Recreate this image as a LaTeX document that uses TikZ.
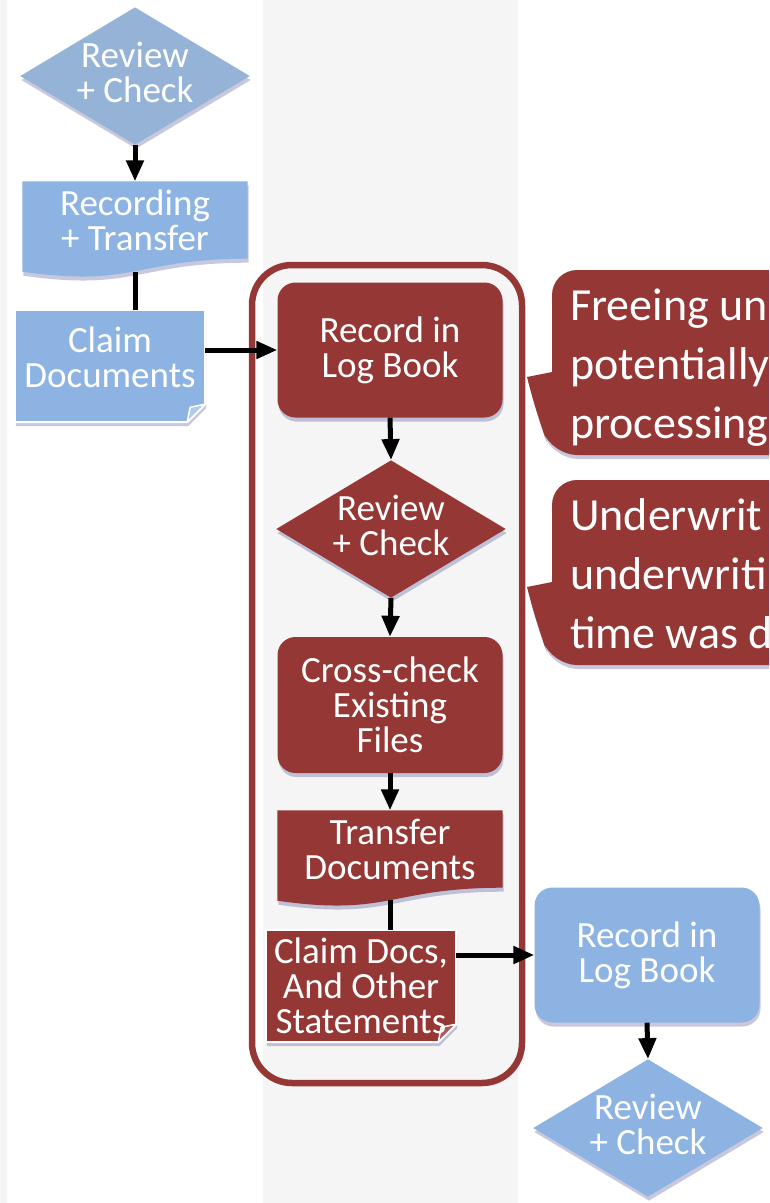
\documentclass[tikz,border=0pt]{standalone}
\usepackage{fontspec}
\setmainfont{Carlito}
\usetikzlibrary{shapes.geometric,arrows.meta,calc,backgrounds,shadows}
\definecolor{stripe}{RGB}{245,245,245}
\definecolor{stepblue}{RGB}{141,179,226}
\definecolor{paleblue}{RGB}{149,179,215}
\definecolor{stepred}{RGB}{149,55,53}
\definecolor{foldblue}{RGB}{175,203,236}
\definecolor{foldred}{RGB}{172,88,86}
\pgfdeclarelayer{docs}
\pgfsetlayers{background,docs,main}

\tikzset{
  soft/.style={drop shadow={shadow xshift=1pt, shadow yshift=-4pt, opacity=0.22, fill=black!60!blue}},
  steptext/.style={text=white, align=center, font=\fontsize{37}{35}\selectfont},
  stepbox/.style={steptext, rectangle, rounded corners=18pt, minimum width=225pt, minimum height=135pt, soft},
  check/.style={steptext, diamond, aspect=1.67, inner sep=0pt, text depth=7pt, minimum width=224pt, minimum height=134pt, soft},
  wavedoc/.style={steptext, rectangle, minimum width=225pt, minimum height=77pt, inner sep=0pt},
  folddoc/.style={steptext, rectangle, minimum width=190pt, minimum height=112pt, inner sep=0pt},
  docline/.style={draw=white, line width=2pt, soft},
  fold/.style={draw=white, line width=1.5pt, line join=round},
  flow/.style={line width=5pt, -{Triangle[length=21pt,width=17pt]}},
  link/.style={line width=5pt},
  callout/.style={fill=stepred, soft},
  note/.style={text=white, align=left, inner sep=0pt, anchor=base west, font=\fontsize{46}{59}\selectfont},
}

\begin{document}
\begin{tikzpicture}[x=1pt, y=-1pt]
\path[use as bounding box] (0,0) rectangle (769,1203);
\clip (0,0) rectangle (769,1203);
\begin{scope}[on background layer]
  \fill[white] (0,0) rectangle (769,1203);
  \fill[stripe] (0,0) rectangle (7,1203);
  \fill[stripe] (263,0) rectangle (518,1203);
\end{scope}

% applicant lane
\node[check, fill=paleblue] (rev1) at (135,76) {Review\\+ Check};
\node[wavedoc] (rec1) at (135,220) {Recording\\+ Transfer};
\node[folddoc, text depth=18pt] (cdoc) at (110,366) {Claim\\Documents};

% claims lane
\draw[stepred, line width=6.5pt, rounded corners=40pt] (252,265) rectangle (522,1083);
\node[stepbox, fill=stepred] (log1) at (390,350) {Record in\\Log Book};
\node[check, fill=stepred] (rev2) at (391,529) {Review\\+ Check};
\node[stepbox, fill=stepred, minimum height=136pt] (cross) at (390,705) {Cross-check\\Existing\\Files};
\node[wavedoc] (trans) at (390,849) {Transfer\\Documents};
\node[folddoc] (cdocs2) at (361,986) {Claim Docs,\\And Other\\Statements};

% underwriting lane
\node[stepbox, fill=stepblue] (log2) at (647,955) {Record in\\Log Book};
\node[check, fill=stepblue] (rev3) at (648,1128) {Review\\+ Check};

% document shapes drawn under the texts
\begin{pgfonlayer}{docs}
  \fill[stepblue, soft] (rec1.north west) -- (rec1.north east) -- (rec1.south east)
    .. controls +(-112,0) and +(112,16) .. ($(rec1.south west)+(0,13)$) -- cycle;
  \fill[stepred, soft] (trans.north west) -- (trans.north east) -- (trans.south east)
    .. controls +(-112,0) and +(112,16) .. ($(trans.south west)+(0,13)$) -- cycle;
  \filldraw[docline, fill=stepblue] (cdoc.north west) -- (cdoc.north east) -- ($(cdoc.south east)+(0,-18)$)
    -- ($(cdoc.south east)+(-18,0)$) -- (cdoc.south west) -- cycle;
  \filldraw[fold, fill=foldblue] ($(cdoc.south east)+(-18,0)$) -- ($(cdoc.south east)+(-15,-15)$)
    -- ($(cdoc.south east)+(0,-18)$) -- cycle;
  \filldraw[docline, fill=stepred] (cdocs2.north west) -- (cdocs2.north east) -- ($(cdocs2.south east)+(0,-18)$)
    -- ($(cdocs2.south east)+(-18,0)$) -- (cdocs2.south west) -- cycle;
  \filldraw[fold, fill=foldred] ($(cdocs2.south east)+(-18,0)$) -- ($(cdocs2.south east)+(-15,-15)$)
    -- ($(cdocs2.south east)+(0,-18)$) -- cycle;
\end{pgfonlayer}

% connectors
\draw[flow] (rev1.south) -- (rec1.north);
\draw[link, shorten <=13pt] (rec1.south) -- (rec1.south |- cdoc.north);
\draw[flow] (cdoc.east |- log1.west) -- (log1.west);
\draw[flow] (log1.south) -- (rev2.north);
\draw[flow] (rev2.south) -- (cross.north);
\draw[flow] (cross.south) -- (trans.north);
\draw[link, shorten <=12pt] (trans.south) -- (trans.south |- cdocs2.north);
\draw[flow] (cdocs2.east |- log2.west) -- (log2.west);
\draw[flow] (log2.south) -- (rev3.north);

% callouts
\fill[callout] (527,377) -- (552,372) [rounded corners=25pt] -- (552,270) -- (820,270) -- (820,455)
  -- (552,455) -- (538,418) [sharp corners] -- (527,377) -- cycle;
\node[note] (note1) at (570,438) {Freeing un\\potentially\\processing};
\fill[callout] (527,587) -- (552,582) [rounded corners=25pt] -- (552,480) -- (820,480) -- (820,665)
  -- (552,665) -- (538,628) [sharp corners] -- (527,587) -- cycle;
\node[note] (note2) at (570,648) {Underwrit\\underwriti\\time was d};
\end{tikzpicture}
\end{document}
